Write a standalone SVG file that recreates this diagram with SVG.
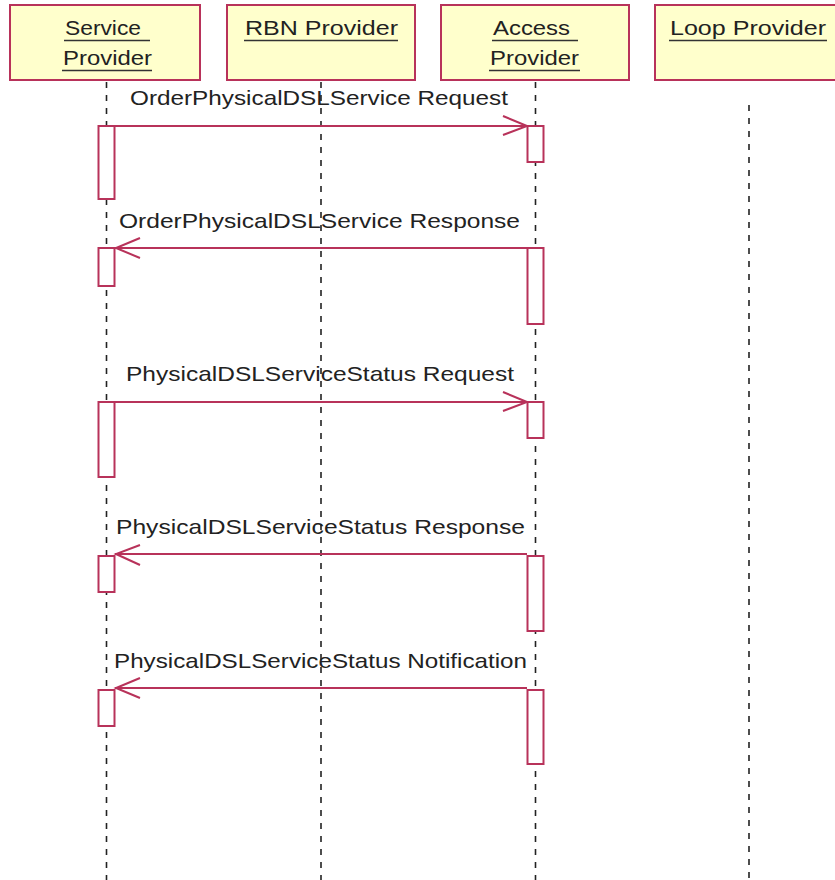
<svg xmlns="http://www.w3.org/2000/svg" width="835" height="880" viewBox="0 0 835 880">
<style>
.box{fill:#ffffcc;stroke:#b8325a;stroke-width:2}
.hd{font-family:"Liberation Sans",Arial,sans-serif;font-size:21px;fill:#222}
.ul{stroke:#333;stroke-width:1.5}
.life{stroke:#222;stroke-width:1.6;stroke-dasharray:6,7;fill:none}
.act{fill:#fff;stroke:#b8325a;stroke-width:2}
.msg{stroke:#b8325a;stroke-width:2;fill:none}
.lbl{font-family:"Liberation Sans",Arial,sans-serif;font-size:21px;fill:#222}
</style>
<g id="lifelines">
<line class="life" x1="106.5" y1="82" x2="106.5" y2="880"/>
<line class="life" x1="321" y1="82" x2="321" y2="880"/>
<line class="life" x1="535.5" y1="82" x2="535.5" y2="880"/>
<line class="life" x1="749" y1="105" x2="749" y2="880"/>
</g>
<g id="service-provider">
<rect class="box" x="10" y="5" width="190" height="75"/>
<text class="hd" x="65" y="35" textLength="76" lengthAdjust="spacingAndGlyphs">Service</text>
<line class="ul" x1="64" y1="40.5" x2="150" y2="40.5"/>
<text class="hd" x="63" y="65" textLength="89" lengthAdjust="spacingAndGlyphs">Provider</text>
<line class="ul" x1="62" y1="70.5" x2="152" y2="70.5"/>
</g>
<g id="rbn-provider">
<rect class="box" x="227" y="5" width="188" height="75"/>
<text class="hd" x="245" y="35" textLength="153" lengthAdjust="spacingAndGlyphs">RBN Provider</text>
<line class="ul" x1="244" y1="40.5" x2="398" y2="40.5"/>
</g>
<g id="access-provider">
<rect class="box" x="441" y="5" width="188" height="75"/>
<text class="hd" x="493" y="35" textLength="77" lengthAdjust="spacingAndGlyphs">Access</text>
<line class="ul" x1="492" y1="40.5" x2="578" y2="40.5"/>
<text class="hd" x="490" y="65" textLength="89" lengthAdjust="spacingAndGlyphs">Provider</text>
<line class="ul" x1="489" y1="70.5" x2="580" y2="70.5"/>
</g>
<g id="loop-provider">
<rect class="box" x="655" y="5" width="190" height="75"/>
<text class="hd" x="670" y="35" textLength="156" lengthAdjust="spacingAndGlyphs">Loop Provider</text>
<line class="ul" x1="669" y1="40.5" x2="827" y2="40.5"/>
</g>
<g id="activations">
<rect class="act" x="98.5" y="126" width="16" height="73"/>
<rect class="act" x="527.5" y="126" width="16" height="36"/>
<rect class="act" x="98.5" y="248" width="16" height="38"/>
<rect class="act" x="527.5" y="248" width="16" height="76"/>
<rect class="act" x="98.5" y="402" width="16" height="75"/>
<rect class="act" x="527.5" y="402" width="16" height="36"/>
<rect class="act" x="98.5" y="556" width="16" height="36"/>
<rect class="act" x="527.5" y="556" width="16" height="75"/>
<rect class="act" x="98.5" y="690" width="16" height="36"/>
<rect class="act" x="527.5" y="690" width="16" height="74"/>
</g>
<g id="connectors">
<line class="msg" x1="115" y1="126" x2="527" y2="126"/>
<polyline class="msg" points="503,116 527,126 503,135"/>
<line class="msg" x1="527" y1="248" x2="115" y2="248"/>
<polyline class="msg" points="140,238 116,248 140,258"/>
<line class="msg" x1="115" y1="402" x2="527" y2="402"/>
<polyline class="msg" points="503,392 527,402 503,411"/>
<line class="msg" x1="527" y1="554" x2="115" y2="554"/>
<polyline class="msg" points="140,545 116,554 140,565"/>
<line class="msg" x1="527" y1="688" x2="115" y2="688"/>
<polyline class="msg" points="140,678 116,688 140,698"/>
</g>
<g id="labels">
<text class="lbl" x="130" y="105" textLength="378" lengthAdjust="spacingAndGlyphs">OrderPhysicalDSLService Request</text>
<text class="lbl" x="119" y="228" textLength="401" lengthAdjust="spacingAndGlyphs">OrderPhysicalDSLService Response</text>
<text class="lbl" x="126" y="381" textLength="388" lengthAdjust="spacingAndGlyphs">PhysicalDSLServiceStatus Request</text>
<text class="lbl" x="116" y="534" textLength="409" lengthAdjust="spacingAndGlyphs">PhysicalDSLServiceStatus Response</text>
<text class="lbl" x="114" y="668" textLength="413" lengthAdjust="spacingAndGlyphs">PhysicalDSLServiceStatus Notification</text>
</g>
</svg>
